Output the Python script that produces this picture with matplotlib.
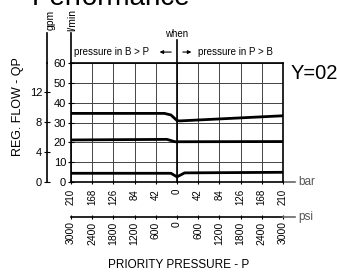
import matplotlib
matplotlib.use("Agg")
import matplotlib.pyplot as plt

plt.rcParams['font.family'] = ['Liberation Sans', 'DejaVu Sans']

# priority pressure (bar), left half = pressure in B > P, right half = P > B
bar_ticks = [-210, -168, -126, -84, -42, 0, 42, 84, 126, 168, 210]
psi_ticks = [-3000, -2400, -1800, -1200, -600, 0, 600, 1200, 1800, 2400, 3000]
lpm_ticks = [0, 10, 20, 30, 40, 50, 60]
gpm_ticks = [0, 4, 8, 12, 16]

# regulated flow curves (l/min)
top_x = [-210, -25, -12, 0, 5, 210]
top_q = [34.6, 34.6, 33.8, 31.0, 30.8, 33.4]
mid_x = [-210, -20, -4, 210]
mid_q = [21.2, 21.5, 20.3, 20.4]
low_x = [-210, -12, 0, 15, 210]
low_q = [4.4, 4.4, 2.6, 4.6, 4.9]

LPM_PER_GPM = 3.785
PSI_PER_BAR = 3000 / 210

fig = plt.figure(figsize=(3.37, 2.73), dpi=100)
ax = fig.add_axes([0.2107, 0.3333, 0.6291, 0.4359])

ax.set_xlim(-210, 210)
ax.set_ylim(0, 60)
ax.set_xticks(bar_ticks)
ax.set_xticklabels([str(abs(v)) for v in bar_ticks], rotation=90, fontsize=7)
ax.set_yticks(lpm_ticks)
ax.set_yticklabels([str(v) for v in lpm_ticks], fontsize=8)
ax.tick_params(axis='x', direction='inout', length=3, pad=3.5, width=0.8)
ax.tick_params(axis='y', direction='inout', length=4, pad=1.5, width=0.8)
ax.grid(True, color='#444444', lw=0.7)
for s in ax.spines.values():
    s.set_linewidth(1.2)

for xs, qs in [(top_x, top_q), (mid_x, mid_q), (low_x, low_q)]:
    ax.plot(xs, qs, color='black', lw=2)

# centre line and spine extensions
ax.axvline(0, ymin=0, ymax=1.19, color='black', lw=1.2, clip_on=False)
ax.plot([0, 0], [1, 1.25], transform=ax.transAxes, color='black', lw=1.2, clip_on=False)
ax.plot([1, 1.057], [0, 0], transform=ax.transAxes, color='#666666', lw=1.2, clip_on=False)

# gpm axis
gax = ax.secondary_yaxis(-0.113, functions=(lambda q: q / LPM_PER_GPM, lambda g: g * LPM_PER_GPM))
gax.set_yticks(gpm_ticks)
gax.set_yticklabels([str(v) for v in gpm_ticks], fontsize=8)
gax.tick_params(direction='inout', length=4, pad=1.5, width=0.8)
gax.spines['left'].set_linewidth(1.2)
ax.plot([-0.113, -0.113], [1, 1.25], transform=ax.transAxes, color='black', lw=1.2, clip_on=False)

# psi axis
pax = ax.secondary_xaxis(-0.29, functions=(lambda b: b * PSI_PER_BAR, lambda p: p / PSI_PER_BAR))
pax.set_xticks(psi_ticks)
pax.set_xticklabels([str(abs(v)) for v in psi_ticks], rotation=90, fontsize=7.5)
pax.tick_params(direction='inout', length=3, pad=2, width=0.8)
pax.spines['bottom'].set_linewidth(1.2)
ax.plot([1, 1.057], [-0.29, -0.29], transform=ax.transAxes, color='#666666', lw=1.2, clip_on=False)

ax.text(1.07, 0, 'bar', transform=ax.transAxes, fontsize=8.5, color='#555555', va='center')
ax.text(1.07, -0.29, 'psi', transform=ax.transAxes, fontsize=8.5, color='#555555', va='center')
ax.text(1.035, 0.915, 'Y=02', transform=ax.transAxes, fontsize=14.5, va='center')

# top annotations
tr = ax.get_xaxis_transform()
ax.text(0, 1.245, 'when', transform=tr, fontsize=7, ha='center', va='center')
ax.text(-204, 1.092, 'pressure in B > P', transform=tr, fontsize=7, ha='left', va='center')
ax.text(42, 1.092, 'pressure in P > B', transform=tr, fontsize=7, ha='left', va='center')
ax.annotate('', xy=(-40, 1.092), xytext=(-6, 1.092), xycoords=tr, textcoords=tr,
            arrowprops=dict(arrowstyle='-|>', color='black', lw=0.8, mutation_scale=5))
ax.annotate('', xy=(34, 1.092), xytext=(6, 1.092), xycoords=tr, textcoords=tr,
            arrowprops=dict(arrowstyle='-|>', color='black', lw=0.8, mutation_scale=5))

fig.text(0.151, 0.927, 'gpm', rotation=90, fontsize=7.5, ha='center', va='center')
fig.text(0.214, 0.927, 'l/min', rotation=90, fontsize=7.5, ha='center', va='center')
fig.text(0.053, 0.608, 'REG. FLOW - QP', rotation=90, fontsize=9, ha='center', va='center')
fig.text(0.53, 0.03, 'PRIORITY PRESSURE - P', fontsize=8.5, ha='center', va='center')
fig.text(0.095, 0.982, 'Performance', fontsize=20, ha='left', va='baseline')

fig.savefig('out.png', dpi=100)
